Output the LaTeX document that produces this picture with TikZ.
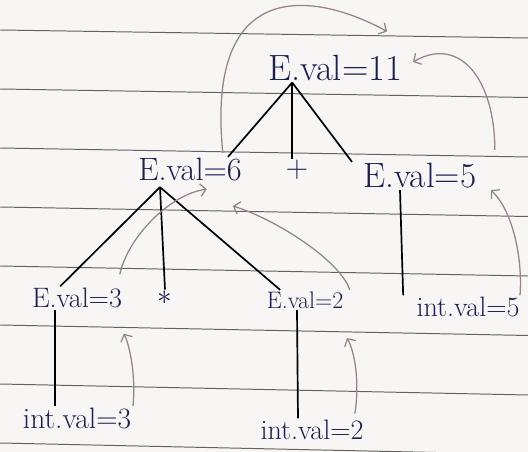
\documentclass[tikz,border=0pt]{standalone}
\usetikzlibrary{arrows.meta}
\definecolor{ink}{RGB}{28,32,80}
\definecolor{pencil}{RGB}{150,134,128}
\definecolor{rule}{RGB}{100,96,96}
\definecolor{paper}{RGB}{247,246,244}
\tikzset{
    attr/.style={
        text=ink,
        inner sep=1pt,
        font=\fontsize{#1}{#1}\selectfont
    },
    tree edge/.style={
        line width=1.2pt,
        black
    },
    dep arrow/.style={
        pencil,
        line width=0.9pt,
        -{Straight Barb[length=4pt,width=9pt]}
    },
    ruled line/.style={
        rule,
        line width=0.7pt
    }
}

\begin{document}
\begin{tikzpicture}[x=0.025cm, y=-0.025cm]
                \fill[paper] (0,0) rectangle (528,452);
                \useasboundingbox (0,0) rectangle (528,452);
                \foreach \i in {0,...,7}
                    \draw[ruled line] (0,30+59*\i) -- (528,38+59.5*\i);
                \node[attr=26] (E11) at (335,68) {E.val=11};
                \node[attr=23] (E6) at (190,170) {E.val=6};
                \node[attr=22] (plus) at (297,170) {+};
                \node[attr=25] (E5) at (420,176) {E.val=5};
                \node[attr=20] (E3) at (77,298) {E.val=3};
                \node[attr=20] (star) at (165,298) {$\ast$};
                \node[attr=17] (E2) at (305,300) {E.val=2};
                \node[attr=20] (I5) at (468,307) {int.val=5};
                \node[attr=21] (I3) at (77,418) {int.val=3};
                \node[attr=20] (I2) at (312,430) {int.val=2};
                \coordinate (E11b) at ([xshift=-1.07cm]E11.south);
                \coordinate (E6b) at ([xshift=-.75cm,yshift=-.1cm]E6.south);
                \draw[tree edge] (E11b) -- ([xshift=.95cm]E6.north);
                \draw[tree edge] (E11b) -- (E11b |- plus.north);
                \draw[tree edge] (E11b) -- ([xshift=-1.7cm]E5.north);
                \draw[tree edge] (E6b) -- ([xshift=-.42cm]E3.north);
                \draw[tree edge] (E6b) -- (star.north);
                \draw[tree edge] (E6b) -- ([xshift=-.62cm]E2.north);
                \draw[tree edge] ([xshift=-.5cm]E5.south) -- ([xshift=-1.62cm]I5.north);
                \draw[tree edge] ([xshift=-.55cm]E3.south) -- ([xshift=-.55cm]I3.north);
                \draw[tree edge] ([xshift=-.2cm]E2.south) -- ([xshift=-.35cm]I2.north);
                \draw[dep arrow] ([xshift=.82cm,yshift=.1cm]E6.north)
                    .. controls +(-18,-182) and +(-67,-37) .. ([xshift=1.3cm,yshift=.55cm]E11.north);
                \draw[dep arrow] ([xshift=1.87cm,yshift=.3cm]E5.north)
                    .. controls +(0,-70) and +(47,-27) .. ([xshift=1.95cm,yshift=.15cm]E11.center);
                \draw[dep arrow] ([xshift=1.07cm,yshift=.3cm]E3.north)
                    .. controls +(8,-37) and +(-37,5) .. ([xshift=.42cm,yshift=-.15cm]E6.south);
                \draw[dep arrow] ([xshift=1.12cm]E2.north)
                    .. controls +(-10,-30) and +(42,13) .. ([xshift=1.07cm,yshift=-.57cm]E6.south);
                \draw[dep arrow] ([xshift=1.3cm]I5.north)
                    .. controls +(3,-44) and +(19,17) .. ([xshift=1.77cm]E5.south);
                \draw[dep arrow] ([xshift=1.4cm]I3.north)
                    .. controls +(3,-30) and +(6,12) .. ([xshift=1.17cm,yshift=-.6cm]E3.south);
                \draw[dep arrow] ([xshift=1.07cm,yshift=.12cm]I2.north)
                    .. controls +(5,-30) and +(8,14) .. ([xshift=1.05cm,yshift=-.7cm]E2.south);
            \end{tikzpicture}
\end{document}
